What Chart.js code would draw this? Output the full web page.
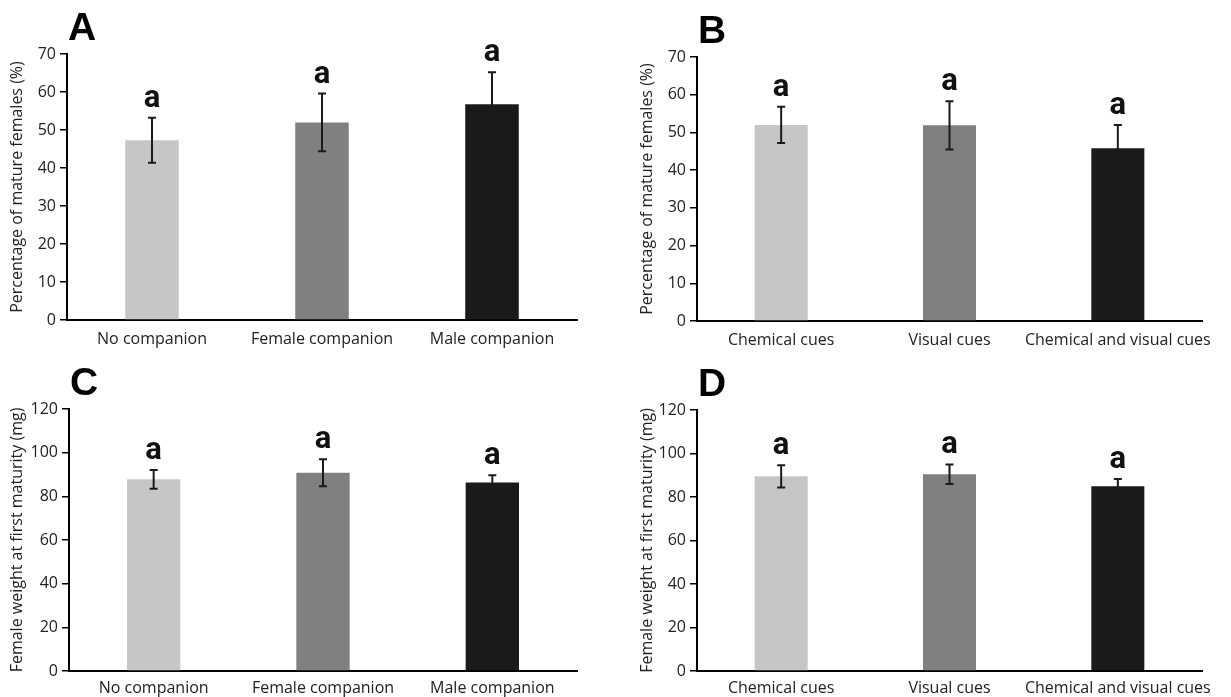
<!DOCTYPE html>
<html>
<head>
<meta charset="utf-8">
<script src="https://cdn.jsdelivr.net/npm/chart.js@4.4.1/dist/chart.umd.min.js"></script>
<style>
    html, body { margin: 0; padding: 0; background: #fff; }
    body { width: 1231px; height: 697px; position: relative; overflow: hidden; }
    .panel { position: absolute; }
</style>
</head>
<body>
<div class="panel" id="wrapA" style="left:0px;top:0px;width:600px;height:350px;"><canvas id="chartA"></canvas></div>
<div class="panel" id="wrapB" style="left:630px;top:0px;width:601px;height:350px;"><canvas id="chartB"></canvas></div>
<div class="panel" id="wrapC" style="left:0px;top:350px;width:600px;height:347px;"><canvas id="chartC"></canvas></div>
<div class="panel" id="wrapD" style="left:630px;top:350px;width:601px;height:347px;"><canvas id="chartD"></canvas></div>
<script>
// Categories
const companionLabels = ['No companion', 'Female companion', 'Male companion'];
const cueLabels = ['Chemical cues', 'Visual cues', 'Chemical and visual cues'];

// Panel A - percentage of mature females, companion treatments
const matureCompanion = [47.3, 52.0, 56.8];
const matureCompanionErr = [5.9, 7.6, 8.4];
// Panel B - percentage of mature females, cue treatments
const matureCues = [52.0, 51.9, 45.8];
const matureCuesErr = [4.8, 6.4, 6.2];
// Panel C - female weight at first maturity, companion treatments
const weightCompanion = [87.8, 90.8, 86.3];
const weightCompanionErr = [4.3, 6.2, 3.4];
// Panel D - female weight at first maturity, cue treatments
const weightCues = [89.5, 90.5, 85.0];
const weightCuesErr = [5.1, 4.5, 3.3];

// Significance letters
const lettersA = ['a', 'a', 'a'];
const lettersB = ['a', 'a', 'a'];
const lettersC = ['a', 'a', 'a'];
const lettersD = ['a', 'a', 'a'];

const barColors = ['#c6c6c6', '#808080', '#1a1a1a'];
const fontFamily = '"Open Sans", "Noto Sans", sans-serif';

// Error bars, significance letters and panel letter
const extrasPlugin = {
    id: 'extras',
    afterDatasetsDraw(chart, args, opts) {
        const ctx = chart.ctx;
        const yScale = chart.scales.y;
        const meta = chart.getDatasetMeta(0);
        const values = chart.data.datasets[0].data;
        ctx.save();
        meta.data.forEach((bar, i) => {
            const top = yScale.getPixelForValue(values[i] + opts.errors[i]);
            const bottom = yScale.getPixelForValue(values[i] - opts.errors[i]);
            ctx.strokeStyle = '#1a1a1a';
            ctx.lineWidth = 2;
            ctx.beginPath();
            ctx.moveTo(bar.x, top);
            ctx.lineTo(bar.x, bottom);
            ctx.moveTo(bar.x - 4, top);
            ctx.lineTo(bar.x + 4, top);
            ctx.moveTo(bar.x - 4, bottom);
            ctx.lineTo(bar.x + 4, bottom);
            ctx.stroke();

            ctx.fillStyle = '#111';
            ctx.font = 'bold 31px "Liberation Sans Narrow", Roboto, sans-serif';
            ctx.textAlign = 'center';
            ctx.textBaseline = 'alphabetic';
            ctx.fillText(opts.letters[i], bar.x, top - 11);
        });
        ctx.fillStyle = '#000';
        ctx.font = 'bold 39px "Liberation Sans", Arial, sans-serif';
        ctx.textAlign = 'left';
        ctx.fillText(opts.panel, chart.chartArea.left + 1, chart.chartArea.top - 14);
        ctx.restore();
    }
};

function createPanel(canvasId, cfg) {
    const ctx = document.getElementById(canvasId);
    return new Chart(ctx, {
        type: 'bar',
        data: {
            labels: cfg.labels,
            datasets: [{
                data: cfg.values,
                backgroundColor: barColors,
                borderWidth: 0,
                barPercentage: 1.0,
                categoryPercentage: 0.315
            }]
        },
        options: {
            responsive: true,
            maintainAspectRatio: false,
            animation: false,
            layout: {
                padding: { left: 0, top: cfg.top, right: cfg.right, bottom: 0 }
            },
            plugins: {
                legend: { display: false },
                tooltip: { enabled: false },
                extras: { errors: cfg.errors, letters: cfg.letters, panel: cfg.panel }
            },
            scales: {
                x: {
                    grid: { display: false },
                    border: { color: '#000', width: 2 },
                    ticks: {
                        color: '#222',
                        padding: cfg.xPad,
                        maxRotation: 0,
                        autoSkip: false,
                        font: { family: fontFamily, size: 16 }
                    },
                    afterFit(scale) { scale.height = cfg.xHeight; }
                },
                y: {
                    min: 0,
                    max: cfg.max,
                    grid: {
                        drawOnChartArea: false,
                        drawTicks: true,
                        tickLength: 7,
                        color: '#000',
                        lineWidth: 1.5
                    },
                    border: { color: '#000', width: 2 },
                    ticks: {
                        stepSize: cfg.step,
                        color: '#222',
                        padding: 4,
                        font: { family: fontFamily, size: 16 }
                    },
                    title: {
                        display: true,
                        text: cfg.yTitle,
                        color: '#222',
                        padding: { top: 8, bottom: 0 },
                        font: { family: fontFamily, size: 16 }
                    },
                    afterFit(scale) { scale.width = cfg.yWidth; }
                }
            }
        },
        plugins: [extrasPlugin]
    });
}

createPanel('chartA', {
    labels: companionLabels, values: matureCompanion, errors: matureCompanionErr,
    letters: lettersA, panel: 'A', max: 70, step: 10,
    yTitle: 'Percentage of mature females (%)',
    top: 54, right: 23, xHeight: 30, yWidth: 67, xPad: 2
});
createPanel('chartB', {
    labels: cueLabels, values: matureCues, errors: matureCuesErr,
    letters: lettersB, panel: 'B', max: 70, step: 10,
    yTitle: 'Percentage of mature females (%)',
    top: 57, right: 29, xHeight: 29, yWidth: 67, xPad: 2
});
createPanel('chartC', {
    labels: companionLabels, values: weightCompanion, errors: weightCompanionErr,
    letters: lettersC, panel: 'C', max: 120, step: 20,
    yTitle: 'Female weight at first maturity (mg)',
    top: 59, right: 23, xHeight: 26, yWidth: 69, xPad: 0
});
createPanel('chartD', {
    labels: cueLabels, values: weightCues, errors: weightCuesErr,
    letters: lettersD, panel: 'D', max: 120, step: 20,
    yTitle: 'Female weight at first maturity (mg)',
    top: 60, right: 29, xHeight: 26, yWidth: 67, xPad: 0
});
</script>
</body>
</html>
